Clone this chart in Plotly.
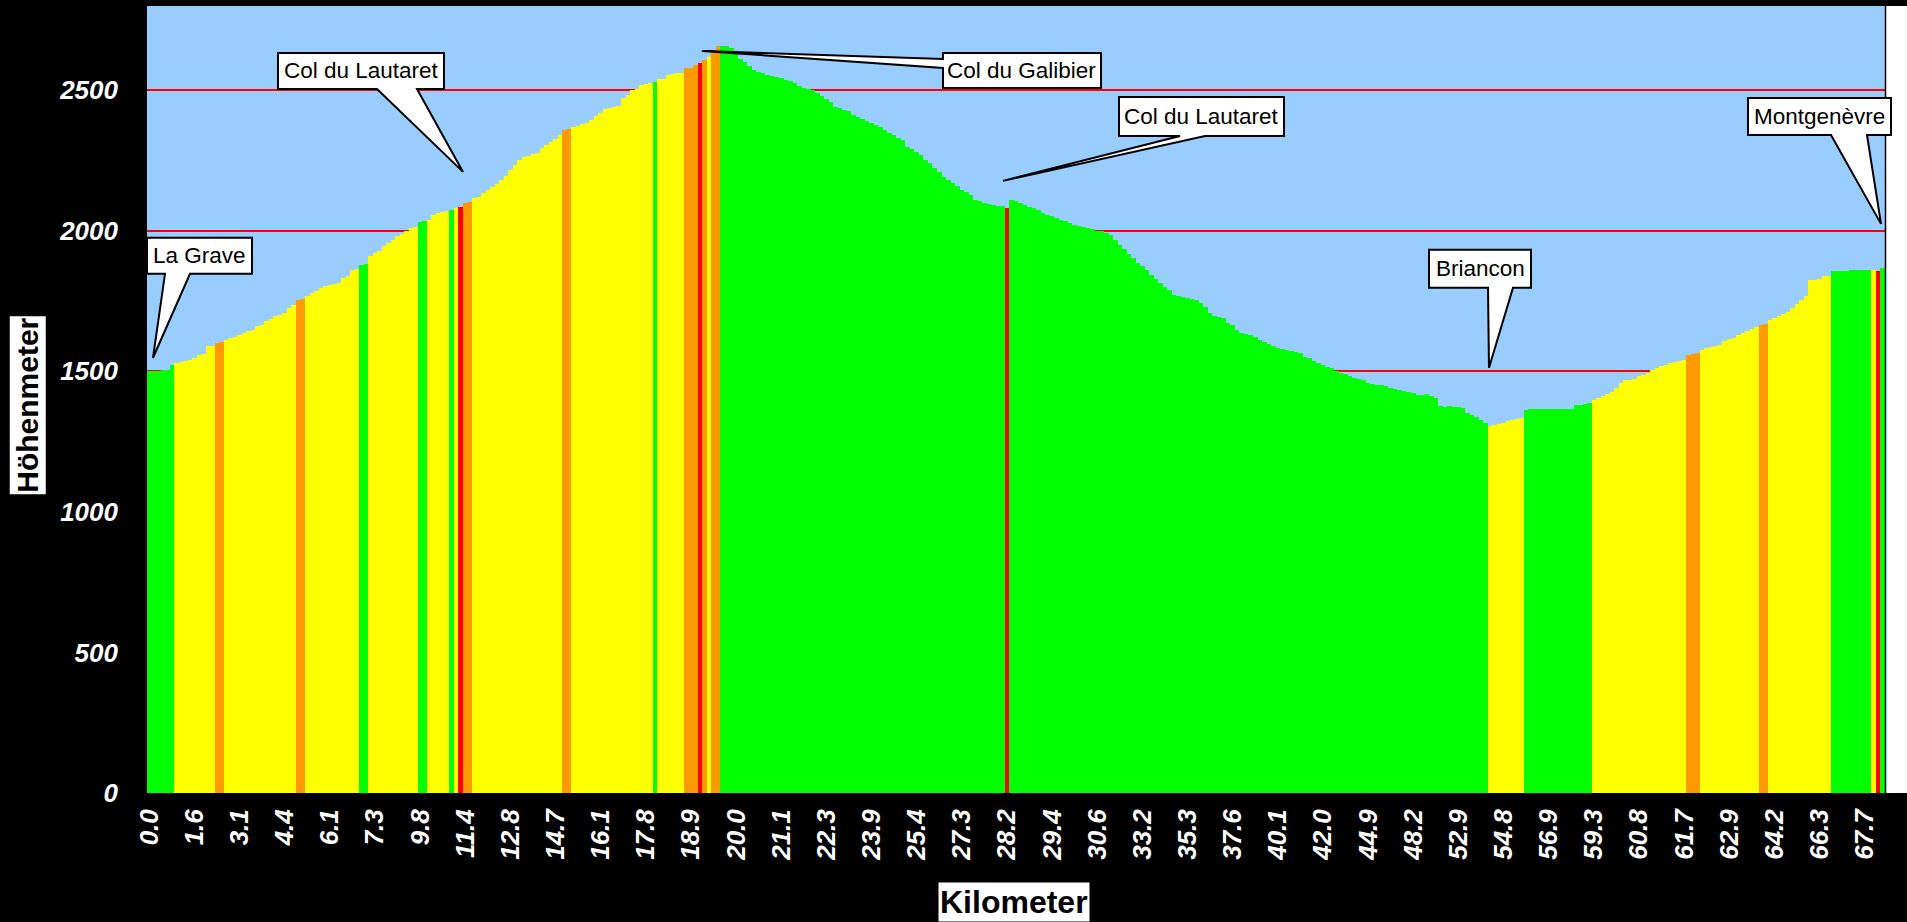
import plotly.graph_objects as go

# ---------------- data ----------------
km_labels = ['0.0', '1.6', '3.1', '4.4', '6.1', '7.3', '9.8', '11.4', '12.8', '14.7',
             '16.1', '17.8', '18.9', '20.0', '21.1', '22.3', '23.9', '25.4', '27.3', '28.2',
             '29.4', '30.6', '33.2', '35.3', '37.6', '40.1', '42.0', '44.9', '48.2', '52.9',
             '54.8', '56.9', '59.3', '60.8', '61.7', '62.9', '64.2', '66.3', '67.7']
label_every = 10  # one km label every 10 measuring points

elevation_m = [
    1500, 1500, 1500, 1506, 1506, 1524, 1531, 1534, 1538, 1541,
    1548, 1559, 1562, 1589, 1590, 1602, 1604, 1612, 1620, 1624,
    1628, 1637, 1645, 1648, 1660, 1665, 1678, 1687, 1696, 1702,
    1708, 1725, 1735, 1755, 1758, 1770, 1780, 1785, 1797, 1803,
    1808, 1812, 1815, 1833, 1840, 1862, 1866, 1880, 1882, 1909,
    1920, 1927, 1945, 1958, 1968, 1980, 1990, 1998, 2011, 2014,
    2033, 2035, 2040, 2057, 2062, 2066, 2069, 2075, 2082, 2085,
    2100, 2102, 2118, 2120, 2135, 2146, 2155, 2165, 2182, 2195,
    2215, 2235, 2253, 2262, 2268, 2272, 2277, 2295, 2306, 2317,
    2328, 2340, 2359, 2362, 2371, 2373, 2381, 2383, 2395, 2410,
    2419, 2433, 2436, 2442, 2445, 2473, 2484, 2502, 2505, 2520,
    2524, 2527, 2531, 2540, 2542, 2556, 2558, 2561, 2563, 2579,
    2580, 2590, 2596, 2608, 2620, 2638, 2656, 2658, 2658, 2650,
    2630, 2612, 2600, 2587, 2573, 2566, 2561, 2556, 2552, 2547,
    2543, 2537, 2532, 2526, 2514, 2510, 2506, 2502, 2491, 2480,
    2470, 2460, 2442, 2436, 2430, 2425, 2413, 2405, 2398, 2390,
    2384, 2377, 2370, 2360, 2349, 2340, 2332, 2325, 2300, 2290,
    2280, 2271, 2253, 2240, 2225, 2211, 2193, 2182, 2170, 2158,
    2146, 2137, 2128, 2111, 2105, 2100, 2096, 2092, 2089, 2087,
    2081, 2111, 2108, 2100, 2092, 2085, 2080, 2075, 2063, 2058,
    2052, 2046, 2040, 2035, 2029, 2022, 2018, 2014, 2010, 2005,
    2001, 1998, 1993, 1986, 1968, 1950, 1935, 1918, 1904, 1886,
    1875, 1862, 1844, 1830, 1815, 1802, 1790, 1773, 1767, 1763,
    1760, 1757, 1755, 1744, 1730, 1708, 1696, 1693, 1691, 1673,
    1665, 1648, 1637, 1632, 1628, 1624, 1612, 1605, 1598, 1589,
    1583, 1580, 1577, 1574, 1570, 1566, 1553, 1546, 1538, 1530,
    1522, 1516, 1512, 1500, 1495, 1490, 1485, 1478, 1474, 1470,
    1460, 1456, 1452, 1450, 1447, 1442, 1437, 1433, 1430, 1427,
    1424, 1417, 1415, 1420, 1412, 1406, 1376, 1375, 1378, 1374,
    1373, 1371, 1353, 1345, 1336, 1327, 1318, 1304, 1308, 1313,
    1318, 1322, 1326, 1330, 1334, 1364, 1365, 1365, 1366, 1366,
    1366, 1366, 1367, 1367, 1367, 1367, 1381, 1381, 1383, 1388,
    1399, 1406, 1413, 1420, 1427, 1440, 1459, 1470, 1470, 1472,
    1482, 1488, 1494, 1506, 1512, 1518, 1524, 1530, 1535, 1538,
    1542, 1559, 1562, 1566, 1577, 1582, 1586, 1590, 1594, 1607,
    1614, 1620, 1628, 1636, 1645, 1652, 1659, 1666, 1668, 1683,
    1690, 1698, 1705, 1713, 1726, 1740, 1755, 1767, 1826, 1826,
    1830, 1838, 1838, 1856, 1857, 1857, 1858, 1860, 1860, 1861,
    1862, 1862, 1862, 1856, 1869,
]

# gradient class of each measuring point, as runs (class, number of points)
gradient_runs = [
    ("G", 6), ("Y", 9), ("O", 2), ("Y", 16), ("O", 2), ("Y", 12), ("G", 2), ("Y", 11),
    ("G", 2), ("Y", 5), ("G", 1), ("Y", 1), ("R", 1), ("O", 2), ("Y", 20), ("O", 2),
    ("Y", 18), ("G", 1), ("Y", 6), ("O", 3), ("R", 1), ("O", 1), ("Y", 1), ("O", 2),
    ("G", 63), ("R", 1), ("G", 106), ("Y", 8), ("G", 15), ("Y", 21), ("O", 3), ("Y", 13),
    ("O", 2), ("Y", 14), ("G", 9), ("Y", 1), ("R", 1), ("G", 1),
]

place_names = ["La Grave", "Col du Lautaret", "Col du Galibier", "Col du Lautaret",
               "Briancon", "Montgenèvre"]

# ---------------- styling ----------------
palette = {"G": "#00FF00", "Y": "#FFFF00", "O": "#FF9900", "R": "#FF0000"}
bar_colors = [palette[c] for c, n in gradient_runs for _ in range(n)]
x_idx = list(range(len(elevation_m)))

W, H = 1907, 922
PL, PR, PT, PB = 147, 1885, 6, 793.5  # plot area in pixels


def px(x):
    return (x - PL) / (PR - PL)


def py(y):
    return (PB - y) / (PB - PT)


fig = go.Figure()
fig.add_trace(go.Bar(
    x=x_idx, y=elevation_m, width=1,
    marker=dict(color=bar_colors, line=dict(width=0)),
    hoverinfo="skip", showlegend=False,
))

tick_font = dict(family="Liberation Sans, Arial", size=26, color="white",
                 weight="bold", style="italic")

fig.update_layout(
    width=W, height=H,
    paper_bgcolor="black", plot_bgcolor="#99CCFF",
    margin=dict(l=PL, r=W - PR, t=PT, b=H - PB, autoexpand=False),
    bargap=0, showlegend=False,
    xaxis=dict(
        range=[-0.5, len(elevation_m) - 0.5],
        tickmode="array",
        tickvals=[i * label_every for i in range(len(km_labels))],
        ticktext=km_labels,
        tickangle=-90, tickfont=tick_font,
        showgrid=False, zeroline=False, ticks="", ticklabelstandoff=10,
        showline=False,
    ),
    yaxis=dict(
        range=[0, 2800], dtick=500, tick0=0,
        showgrid=True, gridcolor="#FF0000", gridwidth=2,
        zeroline=False, ticks="", ticklabelstandoff=28,
        tickfont=tick_font, showline=False,
    ),
)

# white strip right of the plot area, with a thin black edge
fig.add_shape(type="rect", xref="paper", yref="paper",
              x0=px(PR + 1), x1=px(W + 2), y0=py(PB), y1=py(PT),
              fillcolor="white", line=dict(width=0), layer="below")
fig.add_shape(type="line", xref="paper", yref="paper",
              x0=px(PR + 0.5), x1=px(PR + 0.5), y0=py(PB), y1=py(PT),
              line=dict(color="black", width=1.5), layer="above")

# axis titles on white boxes
fig.add_annotation(xref="paper", yref="paper", x=px(1014), y=py(903),
                   xanchor="center", yanchor="middle",
                   text="<b>Kilometer</b>", showarrow=False,
                   font=dict(family="Liberation Sans, Arial", size=32, color="black"),
                   bgcolor="white", borderpad=1)
fig.add_annotation(xref="paper", yref="paper", x=px(28), y=py(406),
                   xanchor="center", yanchor="middle",
                   text="<b>Höhenmeter</b>", textangle=-90, showarrow=False,
                   font=dict(family="Liberation Sans, Arial", size=30, color="black"),
                   bgcolor="white", borderpad=1)

# callouts: (name, box L, T, R, B, wedge base a, wedge base b, tip x, tip y, side)
callouts = [
    (place_names[0], 147, 238, 252, 274, 165, 190, 153, 358, "bottom"),
    (place_names[1], 278, 53, 444, 89, 377, 417, 463, 172, "bottom"),
    (place_names[2], 943, 53, 1101, 88, 59, 68, 702, 51, "left"),
    (place_names[3], 1119, 97, 1284, 136, 1180, 1205, 1003, 181, "bottom"),
    (place_names[4], 1429, 250, 1531, 288, 1488, 1513, 1489, 368, "bottom"),
    (place_names[5], 1748, 98, 1891, 135, 1831, 1867, 1881, 224, "bottom"),
]

for name, L, T, R, B, a, b, tx, ty, side in callouts:
    if side == "bottom":
        pts = [(L, T), (R, T), (R, B), (b, B), (tx, ty), (a, B), (L, B)]
    else:
        pts = [(L, T), (R, T), (R, B), (L, B), (L, b), (tx, ty), (L, a)]
    path = "M " + " L ".join(f"{px(x):.5f},{py(y):.5f}" for x, y in pts) + " Z"
    fig.add_shape(type="path", xref="paper", yref="paper", path=path,
                  fillcolor="white", line=dict(color="black", width=2), layer="above")
    fig.add_annotation(xref="paper", yref="paper", x=px((L + R) / 2), y=py((T + B) / 2),
                       xanchor="center", yanchor="middle",
                       text=name, showarrow=False,
                       font=dict(family="Liberation Sans, Arial", size=22.5, color="black"))

fig.write_html("out.html", config={"displayModeBar": False},
               post_script="document.body.style.margin='0px';")
